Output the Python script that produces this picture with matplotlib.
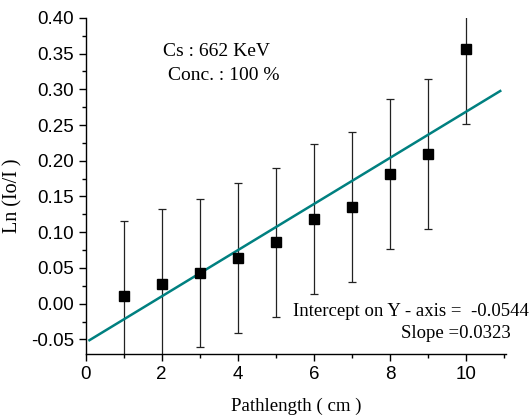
import matplotlib
matplotlib.use("Agg")
import matplotlib.pyplot as plt
import numpy as np
from matplotlib.ticker import MultipleLocator

# measured points
pathlength = [1, 2, 3, 4, 5, 6, 7, 8, 9, 10]
ln_ratio = [0.011, 0.028, 0.043, 0.064, 0.086, 0.118, 0.135, 0.181, 0.210, 0.356]
err = [0.105, 0.104, 0.104, 0.105, 0.104, 0.105, 0.105, 0.105, 0.105, 0.105]

# linear fit
intercept = -0.0544
slope = 0.0323
fit_x = [0.1, 10.9]

serif = "Liberation Serif"
sans = "Liberation Sans"

fig = plt.figure(figsize=(5.32, 4.16), dpi=100)
ax = fig.add_axes([0.161, 0.149, 0.79, 0.808])

ax.errorbar(pathlength, ln_ratio, yerr=err, fmt="none", ecolor="#222222",
            elinewidth=0.9, capsize=3.2, capthick=0.9, zorder=2)
fx = np.array(fit_x)
ax.plot(fx, intercept + slope * fx, color="#008080", lw=1.8, zorder=3)
ax.plot(pathlength, ln_ratio, "s", color="black", ms=6.8, zorder=4)

ax.set_xlim(0, 11.05)
ax.set_ylim(-0.0705, 0.40)
ax.xaxis.set_major_locator(MultipleLocator(2))
ax.xaxis.set_minor_locator(MultipleLocator(1))
ax.yaxis.set_major_locator(MultipleLocator(0.05))
ax.yaxis.set_minor_locator(MultipleLocator(0.025))
ax.yaxis.set_major_formatter(plt.FuncFormatter(lambda v, p: f"{v:.2f}"))

for s in ["top", "right"]:
    ax.spines[s].set_visible(False)
for s in ["left", "bottom"]:
    ax.spines[s].set_linewidth(1.0)

ax.tick_params(which="major", direction="out", length=5, width=1, labelsize=13.5)
ax.tick_params(which="minor", direction="out", length=3, width=1)
for lab in ax.get_xticklabels() + ax.get_yticklabels():
    lab.set_fontfamily(sans)

ax.set_xlabel("Pathlength ( cm )", fontfamily=serif, fontsize=13.6, labelpad=11)
ax.set_ylabel("Ln (Io/I )", fontfamily=serif, fontsize=14.5)
ax.yaxis.set_label_coords(-0.15, 0.47)

fig.text(163 / 532, 1 - 51 / 416, "Cs : 662 KeV", fontfamily=serif, fontsize=14,
         va="center", ha="left")
fig.text(168 / 532, 1 - 76 / 416, "Conc. : 100 %", fontfamily=serif, fontsize=14,
         va="center", ha="left")
fig.text(529 / 532, 1 - 312 / 416, "Intercept on Y - axis =  -0.0544", fontfamily=serif,
         fontsize=13.5, va="center", ha="right")
fig.text(511 / 532, 1 - 334 / 416, "Slope =0.0323", fontfamily=serif, fontsize=13.5,
         va="center", ha="right")

fig.savefig("out.png", dpi=100)
